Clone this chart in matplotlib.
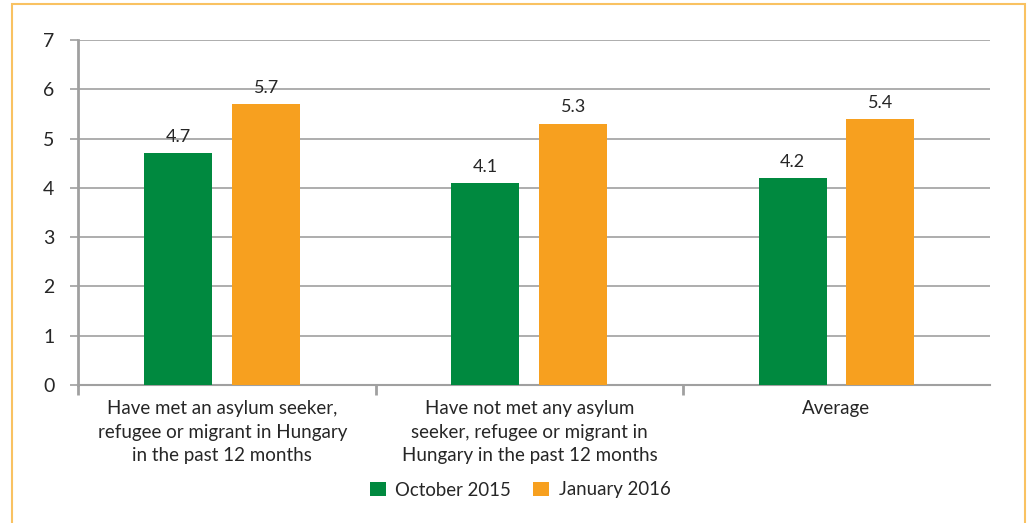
import numpy as np
import matplotlib
matplotlib.use('Agg')
import matplotlib.pyplot as plt
from matplotlib.patches import Rectangle

categories = ['Have met an asylum seeker,\nrefugee or migrant in Hungary\nin the past 12 months',
              'Have not met any asylum\nseeker, refugee or migrant in\nHungary in the past 12 months',
              'Average']
october_2015 = [4.7, 4.1, 4.2]
january_2016 = [5.7, 5.3, 5.4]
series_names = ['October 2015', 'January 2016']

green = '#00893f'
orange = '#f7a01f'
grid_gray = '#a0a0a0'
text_col = '#262626'

plt.rcParams['font.family'] = ['Lato', 'DejaVu Sans']

fig = plt.figure(figsize=(10.28, 5.23), dpi=100)
ax = fig.add_axes([78 / 1028, 1 - 385 / 523, (990 - 78) / 1028, (385 - 40) / 523])

# orange frame round the chart
fig.patches.append(Rectangle((12 / 1028, -0.05), (1025 - 12) / 1028, 1.05 - 4 / 523,
                             transform=fig.transFigure, fill=False,
                             edgecolor='#f9c262', lw=1.5))

x = np.arange(len(categories))
w = 0.2215
off = 0.143
b1 = ax.bar(x - off, october_2015, w, color=green, label=series_names[0], zorder=3)
b2 = ax.bar(x + off, january_2016, w, color=orange, label=series_names[1], zorder=3)

for bars, vals in [(b1, october_2015), (b2, january_2016)]:
    for r, v in zip(bars, vals):
        ax.annotate(f'{v:.1f}', (r.get_x() + r.get_width() / 2, v),
                    xytext=(0, 6), textcoords='offset points',
                    ha='center', va='bottom', fontsize=13, color=text_col)

ax.set_xlim(-0.47, 2.5)
ax.set_ylim(0, 7)
ax.set_yticks(range(8))
ax.grid(axis='y', color=grid_gray, lw=1.2, zorder=0)
ax.set_axisbelow(True)

for s in ['top', 'right']:
    ax.spines[s].set_visible(False)
ax.spines['left'].set_color(grid_gray)
ax.spines['left'].set_linewidth(2)
ax.spines['bottom'].set_color(grid_gray)
ax.spines['bottom'].set_linewidth(1.5)

ax.tick_params(axis='y', length=6, width=1.2, color=grid_gray, pad=11,
               labelsize=14, labelcolor=text_col)
ax.set_xticks(x)
ax.set_xticklabels(categories, fontsize=13.5, color=text_col, linespacing=1.45)
ax.tick_params(axis='x', which='major', length=0, pad=11)
ax.set_xticks([-0.47, 0.5, 1.5], minor=True)
ax.tick_params(axis='x', which='minor', length=7, width=2, color=grid_gray)

fig.legend(loc='center', bbox_to_anchor=(0.506, 1 - 490 / 523), ncol=2,
           frameon=False, fontsize=13.4, handlelength=0.85, handleheight=0.85,
           handletextpad=0.5, columnspacing=1.2, labelcolor=text_col)

fig.savefig('out.png', dpi=100)
